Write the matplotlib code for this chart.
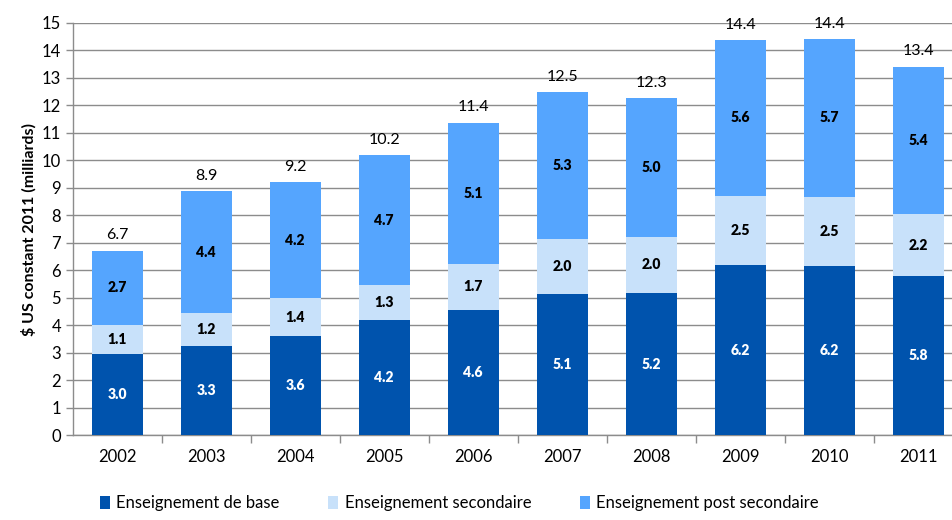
import matplotlib.pyplot as plt
import numpy as np
from matplotlib.patches import Patch

plt.rcParams['font.family'] = ['Lato', 'DejaVu Sans']

years = ['2002', '2003', '2004', '2005', '2006', '2007', '2008', '2009', '2010', '2011']
base = [2.96, 3.26, 3.61, 4.19, 4.56, 5.14, 5.18, 6.18, 6.16, 5.80]
secondaire = [1.06, 1.19, 1.38, 1.26, 1.67, 2.01, 2.04, 2.54, 2.51, 2.24]
post_secondaire = [2.70, 4.43, 4.22, 4.74, 5.14, 5.33, 5.04, 5.64, 5.74, 5.37]
series_names = ['Enseignement de base', 'Enseignement secondaire', 'Enseignement post secondaire']
colors = ['#0053AD', '#C8E1FA', '#55A5FE']

fig = plt.figure(figsize=(9.53, 5.2), dpi=100)
ax = fig.add_axes([0.0763, 0.163, 1 - 0.0763, 0.793])

x = np.arange(len(years))
width = 0.573
bottom = np.zeros(len(years))
for vals, color, name in zip([base, secondaire, post_secondaire], colors, series_names):
    vals = np.array(vals)
    ax.bar(x, vals, width, bottom=bottom, color=color, label=name, zorder=3)
    txt_color = 'white' if color == colors[0] else 'black'
    for xi, b, v in zip(x, bottom, vals):
        ax.text(xi, b + v / 2, f'{v:.1f}', ha='center', va='center',
                color=txt_color, fontsize=10, fontweight='heavy', zorder=4)
    bottom = bottom + vals

# totals above bars
for xi, tot in zip(x, bottom):
    ax.annotate(f'{tot:.1f}', (xi, tot), xytext=(0, 6), textcoords='offset points',
                ha='center', va='bottom', fontsize=11.5)

ax.set_ylim(0, 15)
ax.set_xlim(-0.5, 9.39)
ax.set_yticks(range(0, 16))
ax.tick_params(axis='y', labelsize=12, length=5, color='#8C8C8C', width=1)
ax.set_xticks(x)
ax.set_xticklabels(years)
ax.tick_params(axis='x', which='major', length=0, labelsize=12, pad=10)
ax.set_xticks(np.arange(0.5, 9.5, 1), minor=True)
ax.tick_params(axis='x', which='minor', length=6, color='#8C8C8C', width=1)

ax.grid(axis='y', color='#8C8C8C', linewidth=1, zorder=0)
ax.set_axisbelow(True)
for side in ['top', 'right']:
    ax.spines[side].set_visible(False)
for side in ['left', 'bottom']:
    ax.spines[side].set_color('#8C8C8C')
    ax.spines[side].set_linewidth(1)

ax.set_ylabel('$ US constant 2011 (milliards)', fontsize=11.5, fontweight='bold', labelpad=4)

handles = [Patch(facecolor=c, edgecolor='none') for c in colors]
fig.legend(handles, series_names, loc='lower left', bbox_to_anchor=(0.089, -0.012),
           ncol=3, frameon=False, fontsize=12, handlelength=0.6, handleheight=0.8,
           handletextpad=0.4, columnspacing=2.9)

plt.savefig('out.png', dpi=100)
